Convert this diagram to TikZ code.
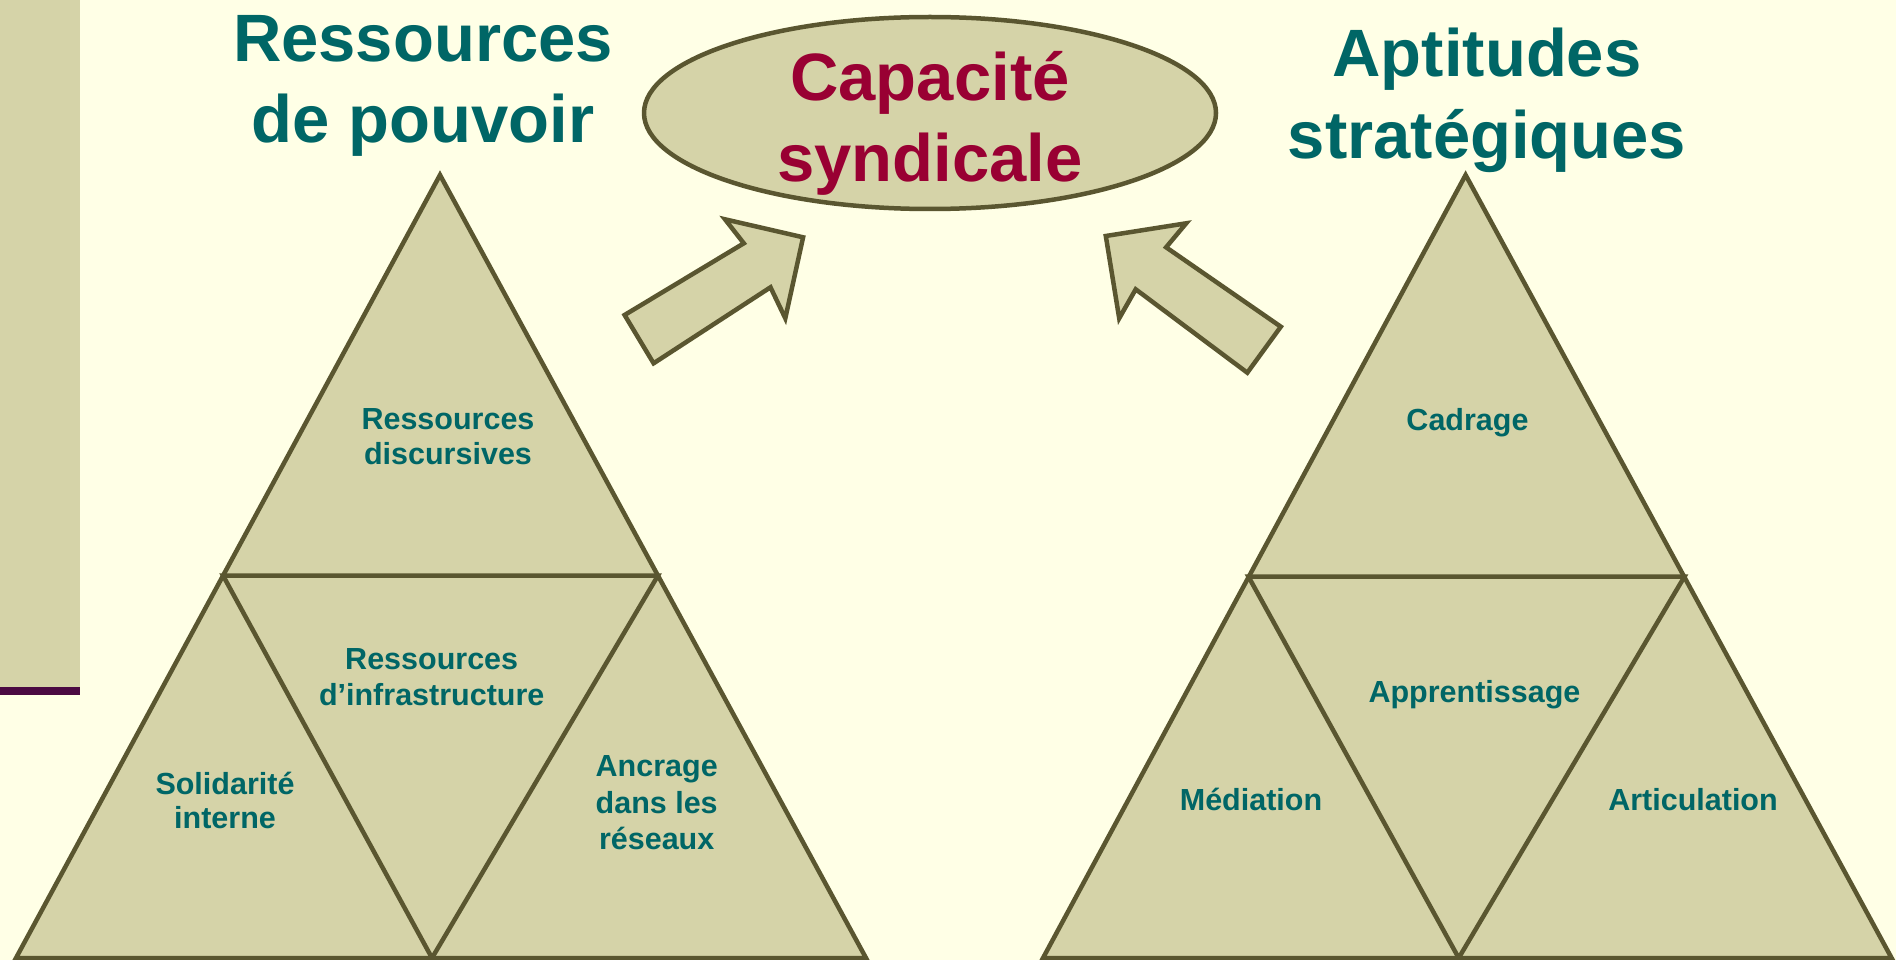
\documentclass[tikz,border=0pt]{standalone}
\usepackage{fontspec}
\setmainfont{Liberation Sans}
\usetikzlibrary{shapes.geometric}
\definecolor{bg}{HTML}{FFFFE6}
\definecolor{pale}{HTML}{D5D3A8}
\definecolor{olive}{HTML}{5A5630}
\definecolor{tealtxt}{HTML}{006666}
\definecolor{wine}{HTML}{990033}
\definecolor{plum}{HTML}{4B0A42}
\begin{document}
\begin{tikzpicture}[x=1pt,y=-1pt,
  piece/.style={fill=pale,draw=olive,line width=4.5pt},
  edge/.style={draw=olive,line width=4.5pt},
  title/.style={text=tealtxt,font=\fontsize{67}{81.5}\selectfont\bfseries,align=center,anchor=base,inner sep=0pt},
  lbl/.style={text=tealtxt,font=\fontsize{30.5}{35}\selectfont\bfseries,align=center,anchor=base,inner sep=0pt}]
\fill[bg] (0,0) rectangle (1896,960);
\useasboundingbox (0,0) rectangle (1896,960);
% sidebar
\fill[pale] (0,0) rectangle (80,687);
\fill[plum] (0,687) rectangle (80,695);
% left pyramid
\coordinate (LA) at (440,175);
\coordinate (LBL) at (16,958);
\coordinate (LBR) at (866,958);
\coordinate (LML) at (223,575.5);
\coordinate (LMR) at (658,575.5);
\coordinate (LMB) at (432,958);
\draw[piece] (LA) -- (LBR) -- (LBL) -- cycle;
\draw[edge] (LML) -- (LMR) -- (LMB) -- cycle;
% right pyramid
\coordinate (RA) at (1465.6,175);
\coordinate (RBL) at (1043,958);
\coordinate (RBR) at (1891.6,958);
\coordinate (RML) at (1248.5,576.7);
\coordinate (RMR) at (1684.4,576.7);
\coordinate (RMB) at (1458.7,958);
\draw[piece] (RA) -- (RBR) -- (RBL) -- cycle;
\draw[edge] (RML) -- (RMR) -- (RMB) -- cycle;
% ellipse
\node[ellipse,piece,minimum width=572pt,minimum height=192pt,inner sep=0pt] (cap) at (930,113) {};
% block arrows
\draw[piece] (624.6,315) -- (743.8,243.3) -- (725,219.3) -- (803.1,237.3) -- (785.3,318.3) -- (770.5,287.3) -- (653.6,363.3) -- cycle;
\draw[piece] (1105.8,236) -- (1186.2,223.3) -- (1166.1,247.3) -- (1280.8,326.7) -- (1247.3,372.7) -- (1135.7,289.3) -- (1119.2,318.3) -- cycle;
% titles (anchor = baseline of last line)
\node[title] (t1) at (423,142.7) {Ressources\\de pouvoir};
\node[title] (t2) at (1487,158.3) {Aptitudes\\stratégiques};
\node[title,text=wine] (captext) at (930,181.7) {Capacité\\syndicale};
% labels
\node[lbl] (l1) at (448,464) {Ressources\\discursives};
\node[lbl,font=\fontsize{30.5}{35.7}\selectfont\bfseries] (l2) at (431.7,705) {Ressources\\d’infrastructure};
\node[lbl,font=\fontsize{30.5}{34}\selectfont\bfseries] (l3) at (225,828) {Solidarité\\interne};
\node[lbl,font=\fontsize{30.5}{36.3}\selectfont\bfseries] (l4) at (656.7,849.3) {Ancrage\\dans les\\réseaux};
\node[lbl] (r1) at (1467.5,430.5) {Cadrage};
\node[lbl] (r2) at (1474.5,702.7) {Apprentissage};
\node[lbl] (r3) at (1251,810.7) {Médiation};
\node[lbl] (r4) at (1693,810.7) {Articulation};
\end{tikzpicture}
\end{document}
